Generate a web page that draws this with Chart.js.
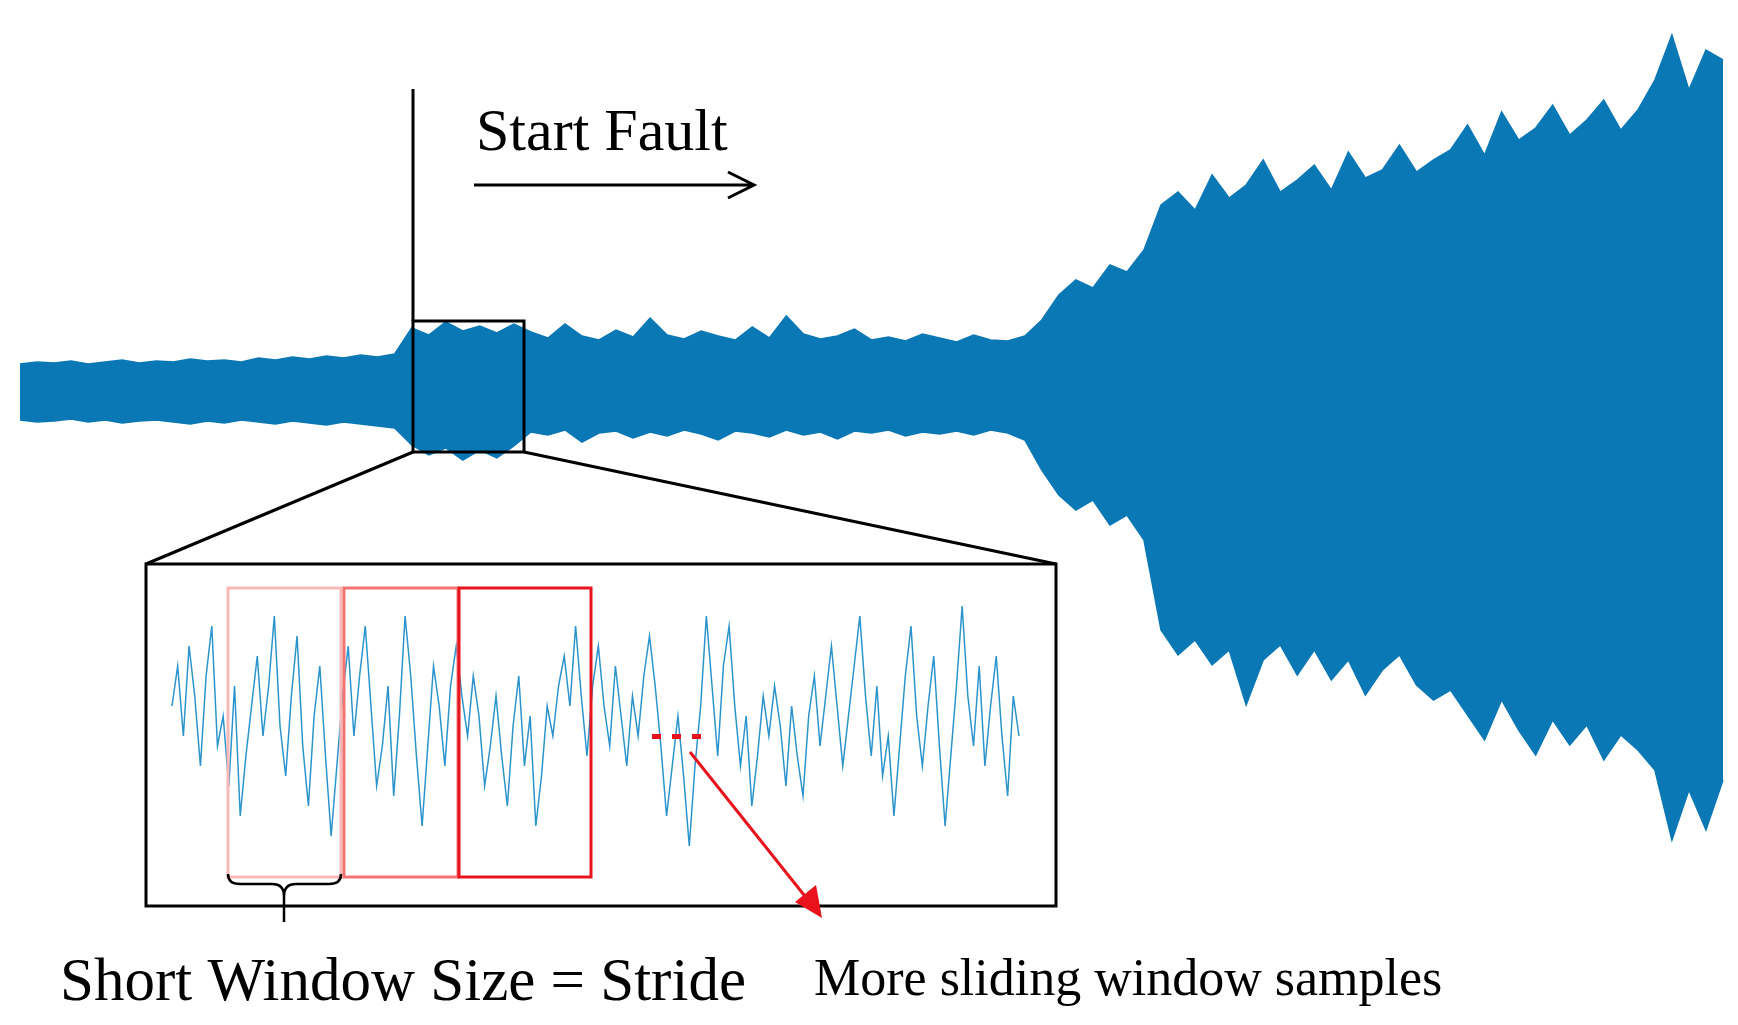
<!DOCTYPE html>
<html>
<head>
<meta charset="utf-8">
<script src="https://cdn.jsdelivr.net/npm/chart.js@4"></script>
<style>
  html, body { margin: 0; padding: 0; background: #fff; }
  #wrap { position: relative; width: 1738px; height: 1025px; }
</style>
</head>
<body>
<div id="wrap"><canvas id="myChart"></canvas></div>
<script>
// main vibration signal, envelope per time step (0..100), amplitude units
var mainUpper = [
  2.6, 2.8, 2.7, 2.9, 2.6, 2.8, 3.0, 2.7, 2.9, 2.8, 3.1, 2.9, 3.0, 2.8, 3.2, 3.0, 3.3, 3.1, 3.4, 3.2, 3.5, 3.3, 3.6,
  6.2, 5.5, 6.8, 5.9, 6.4, 5.7, 6.6,
  5.8, 5.2, 6.6, 5.4, 5.0, 6.0, 5.3, 7.2, 5.5, 5.1, 5.9, 5.4, 5.0, 6.3, 5.2, 7.4, 5.6, 5.1, 5.4, 6.1, 5.0, 5.3, 4.9, 5.6, 5.2, 4.8, 5.5, 5.0, 4.9, 5.4,
  7.0, 9.5, 11.0, 10.2, 12.5, 11.8, 14.0,
  18.5, 19.8, 18.0, 21.5, 19.2, 20.5, 23.0, 19.8, 21.0, 22.5, 20.0, 23.8, 21.2, 22.0, 24.5, 21.8, 23.0,
  24.0, 26.5, 23.5, 27.8, 25.0, 26.2, 28.5, 25.5, 27.0, 29.0, 26.0, 28.0, 31.0,
  35.5, 30.0, 34.0, 33.0
];
var mainLower = [
  -3.0, -3.2, -3.1, -2.9, -3.2, -3.0, -3.3, -3.1, -3.0, -3.2, -3.4, -3.1, -3.3, -3.0, -3.2, -3.4, -3.1, -3.3, -3.5, -3.2, -3.4, -3.6, -3.8,
  -5.5, -6.5, -5.8, -7.0, -6.0, -6.8, -5.6,
  -4.2, -4.5, -4.0, -5.2, -4.3, -4.1, -4.8, -4.2, -4.6, -4.0, -4.4, -5.0, -4.1, -4.3, -4.7, -4.0, -4.5, -4.2, -4.9, -4.1, -4.3, -4.0, -4.6, -4.2, -4.4, -4.1, -4.5, -4.0, -4.3, -5.0,
  -8.0, -10.5, -12.0, -11.0, -13.5, -12.5, -15.0,
  -24.0, -26.5, -25.0, -27.5, -26.0, -31.5, -27.0, -25.5, -28.5, -26.0, -29.0, -27.0, -30.5, -28.0, -26.5, -29.5, -31.0,
  -30.0, -32.5, -35.0, -31.0, -34.0, -36.5, -33.0, -35.5, -33.5, -37.0, -34.5, -36.0, -38.0,
  -45.0, -40.0, -44.0, -39.0
];
// zoomed segment inside the inset box
var insetSignal = [
  20, 60, -10, 80, 30, -40, 50, 100, -20, 10, -60, 40, -90, -30, 20,
  70, -10, 40, 110, 0, -50, 30, 90, -20, -80, 10, 60, -30, -110, -40,
  30, 80, -10, 50, 100, 20, -60, -20, 40, -70, 10, 110, 50, -30, -100,
  -20, 60, 20, -40, 40, 80, 30, -10, 50, 10, -60, -20, 30, -30, -80,
  0, 50, -40, 10, -100, -50, 20, -10, 40, 70, 20, 100, 30, -30, 40,
  80, 20, -20, 60, 10, -40, 30, -10, 50, 90, 40, -20, -90, -40, 10,
  -50, -120, -40, 20, 110, 40, -30, 60, 100, 20, -40, 10, -80, -30, 30,
  -10, 40, 0, -60, 20, -30, -70, 10, 50, -20, 30, 80, 20, -40, 10,
  60, 110, 30, -30, 40, -50, -10, -90, -20, 50, 100, 10, -40, 20, 70,
  -20, -100, -30, 40, 120, 30, -20, 60, -40, 20, 70, -10, -70, 30, -10
];
var labels = ["Start Fault", "Short Window Size = Stride", "More sliding window samples"];

var W = 1738, H = 1025;
var blue = "#0a78b5";

function pts(arr) {
  return arr.map(function (v, i) { return { x: i, y: v }; });
}

// decorations drawn over the plot
var overlay = {
  id: "overlay",
  afterDatasetsDraw: function (chart) {
    var c = chart.ctx;
    c.save();
    c.strokeStyle = "#000";
    c.lineWidth = 3;
    // fault marker
    c.beginPath(); c.moveTo(413, 89); c.lineTo(413, 321); c.stroke();
    // small box
    c.strokeRect(413, 321, 111, 131);
    // zoom lines
    c.beginPath();
    c.moveTo(413, 452); c.lineTo(146, 564);
    c.moveTo(524, 452); c.lineTo(1056, 564);
    c.stroke();
    // inset box
    c.strokeRect(146, 564, 910, 342);

    // sliding windows
    c.lineWidth = 3;
    c.strokeStyle = "#f9b8b8"; c.strokeRect(228, 588, 113, 289);
    c.strokeStyle = "#f47474"; c.strokeRect(344, 588, 114, 289);
    c.strokeStyle = "#e8131c"; c.strokeRect(459, 588, 132, 289);

    // brace
    c.strokeStyle = "#000"; c.lineWidth = 2.5;
    c.beginPath();
    c.moveTo(228, 874);
    c.quadraticCurveTo(228, 884, 240, 884);
    c.lineTo(272, 884);
    c.quadraticCurveTo(284, 884, 284, 896);
    c.lineTo(284, 922);
    c.moveTo(284, 896);
    c.quadraticCurveTo(284, 884, 296, 884);
    c.lineTo(329, 884);
    c.quadraticCurveTo(341, 884, 341, 874);
    c.stroke();

    // start fault arrow
    c.lineWidth = 3;
    c.beginPath();
    c.moveTo(474, 185); c.lineTo(752, 185);
    c.moveTo(728, 172); c.lineTo(754, 185); c.lineTo(728, 198);
    c.stroke();

    // red dots + arrow
    c.fillStyle = "#e8131c";
    [652, 672, 692].forEach(function (x) { c.fillRect(x, 734, 9, 5); });
    c.strokeStyle = "#e8131c"; c.lineWidth = 3;
    c.beginPath(); c.moveTo(690, 752); c.lineTo(808, 900); c.stroke();
    c.beginPath();
    c.moveTo(822, 918); c.lineTo(795, 902); c.lineTo(816, 885); c.closePath(); c.fill();

    // texts
    c.fillStyle = "#000";
    c.textBaseline = "alphabetic";
    c.font = "60px 'Liberation Serif'";
    c.fillText(labels[0], 476, 150);
    c.font = "61px 'Liberation Serif'";
    c.fillText(labels[1], 60, 1000);
    c.font = "52px 'Liberation Serif'";
    c.fillText(labels[2], 814, 995);
    c.restore();
  }
};

var ctx = document.getElementById("myChart").getContext("2d");
var N = insetSignal.length - 1;

var myChart = new Chart(ctx, {
  type: "line",
  data: {
    datasets: [
      {
        data: pts(mainUpper),
        xAxisID: "x", yAxisID: "y",
        borderColor: blue, backgroundColor: blue,
        borderWidth: 1.5, pointRadius: 0, tension: 0,
        fill: "+1",
      },
      {
        data: pts(mainLower),
        xAxisID: "x", yAxisID: "y",
        borderColor: blue, backgroundColor: blue,
        borderWidth: 1.5, pointRadius: 0, tension: 0,
        fill: false,
      },
      {
        data: pts(insetSignal),
        xAxisID: "x2", yAxisID: "y2",
        borderColor: "#2b94cd",
        borderWidth: 1.5, pointRadius: 0, tension: 0,
        fill: false,
      },
    ],
  },
  options: {
    responsive: true,
    maintainAspectRatio: false,
    animation: false,
    layout: { padding: 0 },
    scales: {
      x: { type: "linear", display: false, min: -20 / 17.03, max: (W - 20) / 17.03 },
      y: { display: false, min: -(H - 390) / 10, max: 39 },
      x2: { type: "linear", display: false, min: -172 * N / 847, max: (W - 172) * N / 847 },
      y2: { display: false, min: 726 - H, max: 726 },
    },
    plugins: {
      legend: { display: false },
      tooltip: { enabled: false },
    },
  },
  plugins: [overlay],
});
</script>
</body>
</html>
